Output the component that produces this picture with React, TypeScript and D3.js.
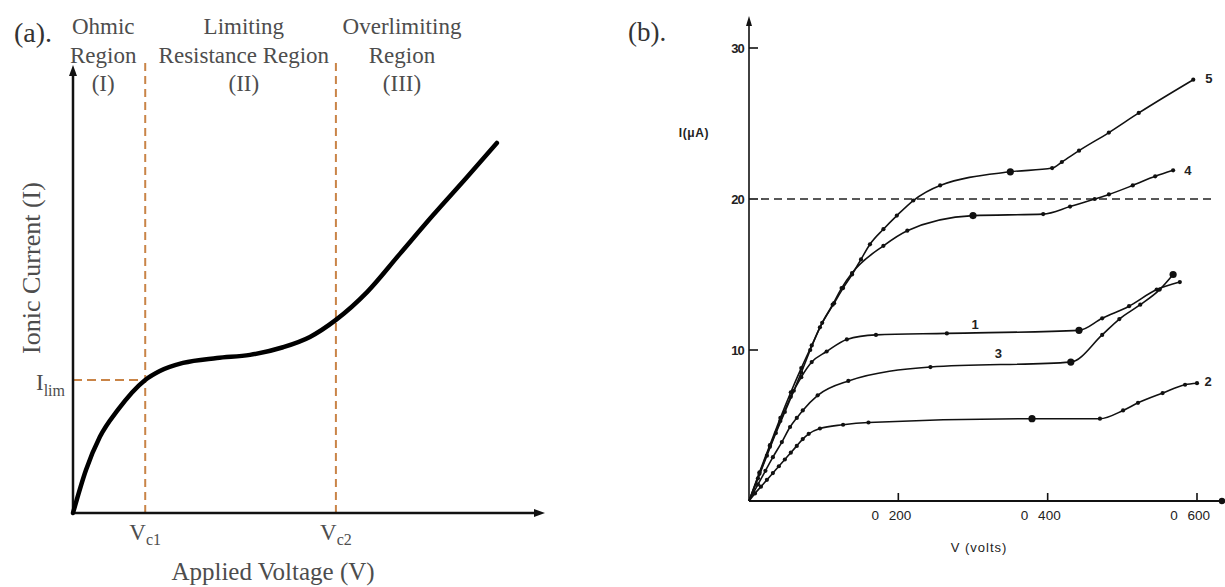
import React from "react";
import * as d3 from "d3";

// ---------- Panel (a): schematic I–V curve ----------
const aVolt = [0, 2.75, 5.7, 9.5, 15.3, 18.4, 23.3, 30.5, 37.5, 44.5, 50.2, 55.7, 62.3, 69.3, 76.3, 83.5, 89.8];
const aCurr = [0, 9.6, 17, 23, 29.7, 31.7, 33.5, 34.6, 35.3, 37, 39.3, 43.1, 49.3, 57.9, 66.5, 75.0, 82.6];
const Vc1 = 15.3;
const Vc2 = 55.7;
const Ilim = 29.7;
const regionCols = [
  { x: 6.4, lines: ["Ohmic", "Region", "(I)"] },
  { x: 36.2, lines: ["Limiting", "Resistance Region", "(II)"] },
  { x: 69.7, lines: ["Overlimiting", "Region", "(III)"] },
];

// ---------- Panel (b): measured curves 1–5 ----------
const curve5: [number, number][] = [
  [0, 0], [12, 1.5], [24, 3.0], [36, 4.5], [48, 5.9], [60, 7.3], [70, 8.5], [82, 10.0], [95, 11.5],
  [114, 13.1], [126, 14.1], [138, 15.0], [150, 16.0], [162, 17.0], [180, 18.0], [198, 18.9], [220, 19.9],
  [256, 20.9], [350, 21.8], [406, 22.05], [419, 22.45], [442, 23.2], [482, 24.4], [522, 25.7], [595, 27.9],
];
const curve4: [number, number][] = [
  [0, 0], [14, 1.9], [28, 3.7], [42, 5.5], [56, 7.2], [70, 8.8], [84, 10.3], [98, 11.8], [112, 13.0],
  [124, 14.1], [138, 15.1], [180, 16.9], [212, 17.9], [300, 18.9], [394, 19.0], [430, 19.5], [463, 20.0],
  [482, 20.3], [514, 20.9], [544, 21.5], [568, 21.9],
];
const curve1: [number, number][] = [
  [0, 0], [14, 1.8], [28, 3.6], [42, 5.3], [56, 6.9], [70, 8.2], [84, 9.2], [104, 9.9], [131, 10.7],
  [170, 11.0], [265, 11.1], [442, 11.3], [473, 12.1], [509, 12.9], [546, 14.0], [577, 14.5],
];
const curve3: [number, number][] = [
  [0, 0], [12, 1.1], [22, 2.0], [32, 2.9], [44, 3.9], [55, 4.9], [64, 5.5], [72, 6.0], [92, 7.0],
  [133, 7.95], [243, 8.87], [431, 9.2], [473, 11.0], [496, 12.05], [524, 13.0], [550, 14.0], [568, 15.0],
];
const curve2: [number, number][] = [
  [0, 0], [8, 0.5], [16, 0.95], [24, 1.4], [32, 1.85], [40, 2.3], [48, 2.75], [56, 3.2], [64, 3.65],
  [72, 4.1], [80, 4.45], [95, 4.8], [126, 5.05], [160, 5.2], [379, 5.45], [470, 5.45], [501, 6.0],
  [521, 6.5], [554, 7.15], [584, 7.7], [600, 7.8],
];
const bigDots: [number, number][] = [
  [350, 21.8], [300, 18.9], [442, 11.3], [431, 9.2], [568, 15.0], [379, 5.45],
];
const curveLabels = [
  { text: "5", v: 611, i: 27.95 },
  { text: "4", v: 583, i: 21.9 },
  { text: "1", v: 298, i: 11.7 },
  { text: "3", v: 329, i: 9.75 },
  { text: "2", v: 610, i: 7.9 },
];
const yTicksB = [10, 20, 30];
const xTicksB = [200, 400, 600];
const xTickLabelsB = ["0 200", "0 400", "0 600"];
const refCurrent = 20;

export default function App() {
  const xA = d3.scaleLinear().domain([0, 100]).range([73, 545]);
  const yA = d3.scaleLinear().domain([0, 100]).range([513, 65]);
  const lineA = d3
    .line<number>()
    .x((_, k) => xA(aVolt[k]))
    .y((_, k) => yA(aCurr[k]))
    .curve(d3.curveMonotoneX);

  const xB = d3.scaleLinear().domain([0, 600]).range([749, 1197]);
  const yB = d3.scaleLinear().domain([0, 30]).range([501, 48]);
  const lineB = d3
    .line<[number, number]>()
    .x((d) => xB(d[0]))
    .y((d) => yB(d[1]))
    .curve(d3.curveMonotoneX);

  const serif = "'Liberation Serif', 'Times New Roman', serif";
  const sans = "'Liberation Sans', Arial, sans-serif";
  const orange = "#c98447";
  const textGrey = "#4d4d4d";
  const series = [curve5, curve4, curve1, curve3, curve2];

  const axTopA = yA(100);
  const axRightA = xA(100);
  const axTopB = 16;
  const axRightB = 1222;

  return (
    <svg
      width={1225}
      height={587}
      viewBox="0 0 1225 587"
      style={{ position: "fixed", left: 0, top: 0, background: "#fff" }}
    >
      <rect x={0} y={0} width={1225} height={587} fill="#fff" />

      {/* ===== Panel (a) ===== */}
      <text x={14} y={42} fontFamily={serif} fontSize={28} fill="#333">(a).</text>
      {regionCols.map((c, ci) =>
        c.lines.map((t, li) => (
          <text
            key={`r${ci}${li}`}
            x={xA(c.x)}
            y={34 + li * 28.5}
            textAnchor="middle"
            fontFamily={serif}
            fontSize={23}
            fill={textGrey}
          >
            {t}
          </text>
        ))
      )}

      {/* dashed guides */}
      {[Vc1, Vc2].map((v, k) => (
        <line
          key={`vd${k}`}
          x1={xA(v)}
          x2={xA(v)}
          y1={yA(0)}
          y2={yA(100.6)}
          stroke={orange}
          strokeWidth={2}
          strokeDasharray="8 5"
        />
      ))}
      <line
        x1={xA(0)}
        x2={xA(Vc1)}
        y1={yA(Ilim)}
        y2={yA(Ilim)}
        stroke={orange}
        strokeWidth={2}
        strokeDasharray="9 5"
      />

      {/* axes */}
      <line x1={xA(0)} x2={xA(0)} y1={yA(0)} y2={axTopA + 8} stroke="#111" strokeWidth={2.5} />
      <polygon
        points={`${xA(0)},${axTopA} ${xA(0) - 4},${axTopA + 11} ${xA(0) + 4},${axTopA + 11}`}
        fill="#111"
      />
      <line x1={xA(0)} x2={axRightA - 8} y1={yA(0)} y2={yA(0)} stroke="#111" strokeWidth={2.5} />
      <polygon
        points={`${axRightA},${yA(0)} ${axRightA - 11},${yA(0) - 4} ${axRightA - 11},${yA(0) + 4}`}
        fill="#111"
      />

      {/* curve */}
      <path d={lineA(aVolt) || ""} fill="none" stroke="#000" strokeWidth={4.5} strokeLinecap="round" />

      {/* axis annotations */}
      <text x={36} y={390} fontFamily={serif} fontSize={23} fill={textGrey}>
        I<tspan fontSize={16} dy={6}>lim</tspan>
      </text>
      <text x={xA(Vc1)} y={540} textAnchor="middle" fontFamily={serif} fontSize={23} fill={textGrey}>
        V<tspan fontSize={16} dy={5}>c1</tspan>
      </text>
      <text x={xA(Vc2)} y={540} textAnchor="middle" fontFamily={serif} fontSize={23} fill={textGrey}>
        V<tspan fontSize={16} dy={5}>c2</tspan>
      </text>
      <text x={273} y={580} textAnchor="middle" fontFamily={serif} fontSize={25} fill={textGrey}>
        Applied Voltage (V)
      </text>
      <text
        transform={`translate(40, 268) rotate(-90)`}
        textAnchor="middle"
        fontFamily={serif}
        fontSize={26}
        fill={textGrey}
      >
        Ionic Current (I)
      </text>

      {/* ===== Panel (b) ===== */}
      <text x={628} y={41} fontFamily={serif} fontSize={27} fill="#333">(b).</text>

      {/* axes */}
      <line x1={xB(0)} x2={xB(0)} y1={yB(0)} y2={axTopB + 6} stroke="#111" strokeWidth={1.6} />
      <polygon
        points={`${xB(0)},${axTopB} ${xB(0) - 3},${axTopB + 10} ${xB(0) + 3},${axTopB + 10}`}
        fill="#111"
      />
      <line x1={xB(0)} x2={axRightB} y1={yB(0)} y2={yB(0)} stroke="#111" strokeWidth={1.8} />
      <circle cx={axRightB} cy={yB(0)} r={3.2} fill="#111" />

      {yTicksB.map((t) => (
        <g key={`yt${t}`}>
          <line x1={xB(0)} x2={xB(0) + 9} y1={yB(t)} y2={yB(t)} stroke="#111" strokeWidth={1.6} />
          <text
            x={xB(0) - 5}
            y={yB(t) + 4.5}
            textAnchor="end"
            fontFamily={sans}
            fontSize={13}
            fontWeight={700}
            fill="#222"
            letterSpacing={-0.8}
          >
            {t}
          </text>
        </g>
      ))}
      {xTicksB.map((t, k) => (
        <g key={`xt${t}`}>
          <line x1={xB(t)} x2={xB(t)} y1={yB(0)} y2={yB(0) - 8} stroke="#111" strokeWidth={1.6} />
          <text
            x={xB(t) + 13}
            y={520}
            textAnchor="end"
            fontFamily={sans}
            fontSize={13.5}
            fill="#222"
            wordSpacing={6}
          >
            {xTickLabelsB[k]}
          </text>
        </g>
      ))}
      <text x={979} y={552} textAnchor="middle" fontFamily={sans} fontSize={13} fill="#222" letterSpacing={1}>
        V (volts)
      </text>
      <text x={694} y={137} textAnchor="middle" fontFamily={sans} fontSize={12} fontWeight={700} fill="#222" letterSpacing={0.6}>
        I(μA)
      </text>

      {/* reference dashed line */}
      <line
        x1={xB(0) + 12}
        x2={1216}
        y1={yB(refCurrent)}
        y2={yB(refCurrent)}
        stroke="#222"
        strokeWidth={1.6}
        strokeDasharray="8 5"
      />

      {/* curves */}
      {series.map((s, k) => (
        <g key={`s${k}`}>
          <path d={lineB(s) || ""} fill="none" stroke="#111" strokeWidth={1.6} />
          {s.slice(1).map((d, j) => (
            <circle key={j} cx={xB(d[0])} cy={yB(d[1])} r={2.1} fill="#111" />
          ))}
        </g>
      ))}
      {bigDots.map((d, k) => (
        <circle key={`bd${k}`} cx={xB(d[0])} cy={yB(d[1])} r={3.6} fill="#111" />
      ))}
      {curveLabels.map((l) => (
        <text
          key={`cl${l.text}`}
          x={xB(l.v)}
          y={yB(l.i) + 4.5}
          fontFamily={sans}
          fontSize={13}
          fontWeight={700}
          fill="#222"
        >
          {l.text}
        </text>
      ))}
    </svg>
  );
}
